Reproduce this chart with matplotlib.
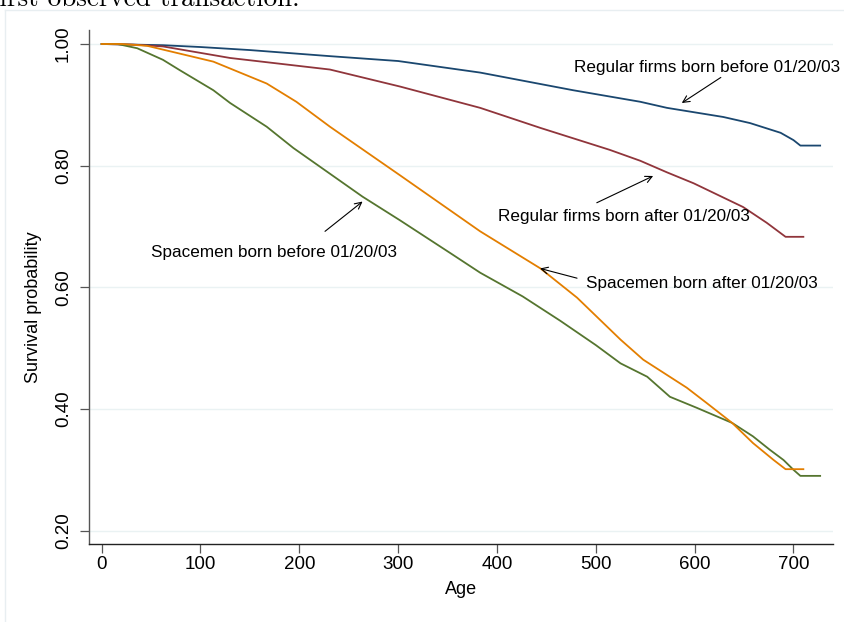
import matplotlib
matplotlib.use("Agg")
import matplotlib.pyplot as plt
from matplotlib.lines import Line2D

plt.rcParams['font.family'] = ['Liberation Sans', 'DejaVu Sans']

# Survival curves (age, survival probability)
reg_before_age = [0, 30, 62, 100, 150, 231, 300, 383, 477, 545, 572, 629, 656, 687, 700, 707, 727]
reg_before_val = [1.0, 0.999, 0.998, 0.995, 0.99, 0.98, 0.972, 0.953, 0.924, 0.905, 0.895, 0.88, 0.87, 0.854, 0.842, 0.833, 0.833]

reg_after_age = [0, 32, 62, 130, 231, 302, 383, 444, 514, 545, 572, 599, 649, 673, 692, 710]
reg_after_val = [1.0, 0.999, 0.996, 0.977, 0.958, 0.93, 0.895, 0.862, 0.826, 0.808, 0.789, 0.771, 0.732, 0.706, 0.683, 0.683]

space_after_age = [0, 20, 46, 113, 167, 197, 231, 302, 383, 444, 481, 525, 548, 592, 612, 638, 659, 680, 692, 710]
space_after_val = [1.0, 1.0, 0.997, 0.971, 0.935, 0.905, 0.864, 0.784, 0.692, 0.631, 0.583, 0.514, 0.481, 0.435, 0.41, 0.377, 0.344, 0.316, 0.301, 0.301]

space_before_age = [0, 16, 36, 62, 79, 113, 130, 167, 194, 264, 302, 353, 383, 426, 464, 500, 525, 552, 575, 602, 638, 659, 676, 690, 700, 707, 727]
space_before_val = [1.0, 1.0, 0.993, 0.974, 0.957, 0.924, 0.903, 0.864, 0.829, 0.749, 0.71, 0.656, 0.624, 0.585, 0.545, 0.505, 0.475, 0.453, 0.42, 0.402, 0.377, 0.355, 0.333, 0.316, 0.30, 0.29, 0.29]

x_ticks = [0, 100, 200, 300, 400, 500, 600, 700]
y_ticks = [0.2, 0.4, 0.6, 0.8, 1.0]

navy = '#1a476f'
maroon = '#90353b'
green = '#55752f'
orange = '#e37e00'

fig = plt.figure(figsize=(8.45, 6.22), dpi=100)
ax = fig.add_axes([89.3 / 845, 1 - 544 / 622, (833 - 89.3) / 845, (544 - 30) / 622])

ax.plot(reg_before_age, reg_before_val, color=navy, lw=1.3)
ax.plot(reg_after_age, reg_after_val, color=maroon, lw=1.3)
ax.plot(space_before_age, space_before_val, color=green, lw=1.3)
ax.plot(space_after_age, space_after_val, color=orange, lw=1.3)

ax.set_xlim(-12.5, 740)
ax.set_ylim(0.178, 1.023)
ax.set_xticks(x_ticks)
ax.set_yticks(y_ticks)
ax.set_yticklabels(['%.2f' % v for v in y_ticks], rotation=90, va='center')
ax.tick_params(axis='both', length=6.5, width=0.9, color='#555555', labelsize=13.5)
ax.tick_params(axis='x', pad=2)
ax.tick_params(axis='y', pad=6)
ax.grid(axis='y', color='#eaf2f3', lw=1.0)
ax.set_axisbelow(True)
for s in ['top', 'right']:
    ax.spines[s].set_visible(False)
ax.spines['left'].set_color('#555555')
ax.spines['bottom'].set_color('#222222')
ax.spines['left'].set_linewidth(1.0)
ax.spines['bottom'].set_linewidth(1.0)

ax.set_xlabel('Age', fontsize=13, labelpad=6)
ax.set_ylabel('Survival probability', fontsize=13)
ax.yaxis.set_label_coords(-0.064, 0.46)

# labels and arrows
def label(txt, x, y, head, tail):
    ax.text(x, y, txt, fontsize=12.3, ha='center', va='center')
    ax.annotate('', xy=head, xytext=tail,
                arrowprops=dict(arrowstyle='->', lw=0.8, color='black',
                                shrinkA=0, shrinkB=0, mutation_scale=12))

label('Regular firms born before 01/20/03', 613, 0.962, (587, 0.903), (626.5, 0.945))
label('Regular firms born after 01/20/03', 528.6, 0.716, (558, 0.783), (501, 0.739))
label('Spacemen born after 01/20/03', 607.6, 0.607, (443.6, 0.631), (481, 0.615))
label('Spacemen born before 01/20/03', 174.5, 0.657, (264, 0.741), (226, 0.692))

# faint outer frame of the graph region
fig.add_artist(Line2D([5 / 845, 5 / 845], [0, 1 - 10 / 622], color='#e8eef1', lw=1.0))
fig.add_artist(Line2D([5 / 845, 1], [1 - 10 / 622, 1 - 10 / 622], color='#e8eef1', lw=1.0))

# caption text clipped at the top
fig.text(-9 / 845, 1 - 6 / 622, 'first observed transaction.', family='cmr10',
         fontsize=19.5, ha='left', va='baseline')

fig.savefig('out.png', dpi=100)
